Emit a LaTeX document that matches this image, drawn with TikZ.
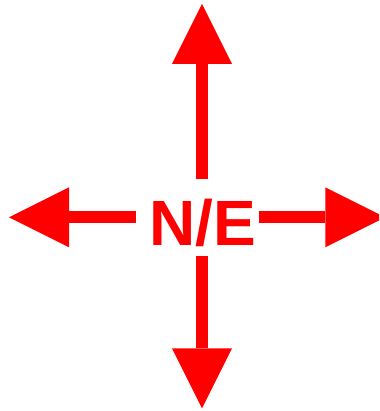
\documentclass[tikz,border=0pt]{standalone}
\usepackage{fontspec}
\setmainfont{Liberation Sans}
\usetikzlibrary{arrows.meta}
\definecolor{arrred}{HTML}{FF0000}
\tikzset{
  dirarrow/.style={draw=arrred, line width=12pt, line cap=butt,
    -{Triangle[width=60pt,length=60pt,line width=0pt]}},
  label/.style={text=arrred, font=\bfseries\fontsize{64}{64}\selectfont, inner sep=0pt}
}
\begin{document}
\begin{tikzpicture}[x=1pt,y=1pt]
\useasboundingbox (0,0) rectangle (379,411);
\begin{scope}
\clip (0,0) rectangle (379,411);
\node[label, anchor=base] (ne) at (203,165.3) {N/E};
\coordinate (us) at (202,231.7);
\coordinate (ut) at (202,407);
\coordinate (ds) at (202,155);
\coordinate (dt) at (202,2.7);
\coordinate (ls) at (135.7,193.7);
\coordinate (lt) at (9,193.7);
\coordinate (rs) at (258.7,193.7);
\coordinate (rt) at (385.3,193.7);
\draw[dirarrow] (us) -- (ut);
\draw[dirarrow] (ds) -- (dt);
\draw[dirarrow] (ls) -- (lt);
\draw[dirarrow] (rs) -- (rt);
\end{scope}
\end{tikzpicture}
\end{document}
